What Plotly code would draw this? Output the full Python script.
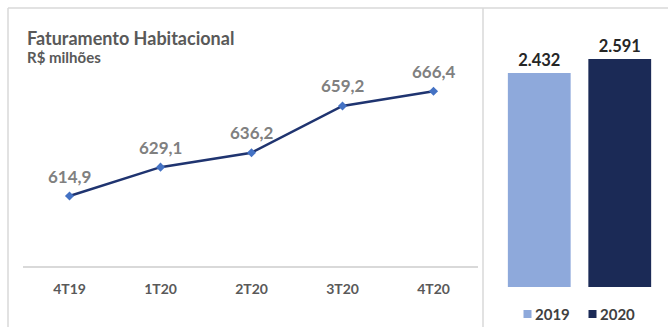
import plotly.graph_objects as go

# line chart: quarterly housing revenue (R$ millions)
quarters = ["4T19", "1T20", "2T20", "3T20", "4T20"]
revenue = [614.9, 629.1, 636.2, 659.2, 666.4]

# bar chart: yearly totals
years = ["2019", "2020"]
year_totals = [2432, 2591]
year_labels = ["2.432", "2.591"]
year_colors = ["#8EA9DB", "#1B2A56"]

W, H = 668, 327
FONT = "Lato"


def px_x(x):
    return x / W


def px_y(y):
    return (H - y) / H


fig = go.Figure()

fig.add_trace(
    go.Scatter(
        x=quarters, y=revenue,
        mode="lines+markers",
        line={"color": "#1F3470", "width": 2.5},
        marker={"color": "#4472C4", "size": 7, "symbol": "diamond"},
        xaxis="x", yaxis="y",
        showlegend=False, cliponaxis=False,
    )
)
# value labels, lifted a bit above the points
for q, v in zip(quarters, revenue):
    fig.add_annotation(x=q, y=v, xref="x", yref="y", yshift=20, showarrow=False,
                       text=f"<b>{v:.1f}</b>".replace(".", ","),
                       font={"color": "#808080", "size": 17, "family": FONT})

for yr, val, lab, col in zip(years, year_totals, year_labels, year_colors):
    fig.add_trace(
        go.Bar(
            x=[yr], y=[val], name=yr,
            marker={"color": col, "line": {"width": 0}},
            text=[f"<b>{lab}</b>"], textposition="outside",
            textfont={"color": "#262626", "size": 16.5, "family": FONT},
            width=0.78,
            xaxis="x2", yaxis="y2",
            showlegend=False, cliponaxis=False,
        )
    )

# panel borders
border = {"color": "#D9D9D9", "width": 1.5}
for x0, y0, x1, y1 in [(8, 8, W, 8), (8, 8, 8, H), (483, 8, 483, H)]:
    fig.add_shape(type="line", xref="paper", yref="paper",
                  x0=px_x(x0), y0=px_y(y0), x1=px_x(x1), y1=px_y(y1),
                  line=border)
# baseline of line chart
fig.add_shape(type="line", xref="paper", yref="paper",
              x0=px_x(23), y0=px_y(267), x1=px_x(478), y1=px_y(267),
              line={"color": "#D9D9D9", "width": 2})

# legend for the yearly bars
for i, (yr, col) in enumerate(zip(years, year_colors)):
    cx = 527.5 + 65 * i
    fig.add_shape(type="rect", xref="paper", yref="paper",
                  x0=px_x(cx - 4), x1=px_x(cx + 4), y0=px_y(318), y1=px_y(310),
                  fillcolor=col, line={"width": 0})
    fig.add_annotation(text=f"<b>{yr}</b>", xref="paper", yref="paper",
                       x=px_x(cx + 5), y=px_y(314), xanchor="left", yanchor="middle",
                       showarrow=False,
                       font={"size": 15, "color": "#404040", "family": FONT})

fig.add_annotation(text="<b>Faturamento Habitacional</b>", xref="paper", yref="paper",
                   x=px_x(25), y=px_y(38), xanchor="left", yanchor="middle",
                   showarrow=False, font={"size": 18, "color": "#595959", "family": FONT})
fig.add_annotation(text="<b>R$ milhões</b>", xref="paper", yref="paper",
                   x=px_x(25), y=px_y(57), xanchor="left", yanchor="middle",
                   showarrow=False, font={"size": 15, "color": "#595959", "family": FONT})

fig.update_layout(
    width=W, height=H,
    margin={"l": 0, "r": 0, "t": 0, "b": 0, "autoexpand": False},
    paper_bgcolor="white", plot_bgcolor="white",
    font={"family": FONT},
    xaxis={"domain": [px_x(24), px_x(479)], "range": [-0.5, 4.5],
           "showgrid": False, "showline": False, "ticks": "",
           "tickfont": {"size": 14, "color": "#595959", "family": FONT},
           "ticklabelstandoff": 12, "tickprefix": "<b>", "ticksuffix": "</b>"},
    yaxis={"domain": [px_y(267), px_y(23)], "range": [580, 700], "visible": False},
    xaxis2={"domain": [px_x(499), px_x(660)], "visible": False, "anchor": "y2"},
    yaxis2={"domain": [px_y(287), px_y(23)], "range": [0, 3000], "visible": False,
            "anchor": "x2"},
    showlegend=False,
)

# the page body has a default 8px margin; drop it so the figure sits at 0,0
fig.write_html("out.html", config={"displayModeBar": False},
               post_script="document.body.style.margin = '0';")
